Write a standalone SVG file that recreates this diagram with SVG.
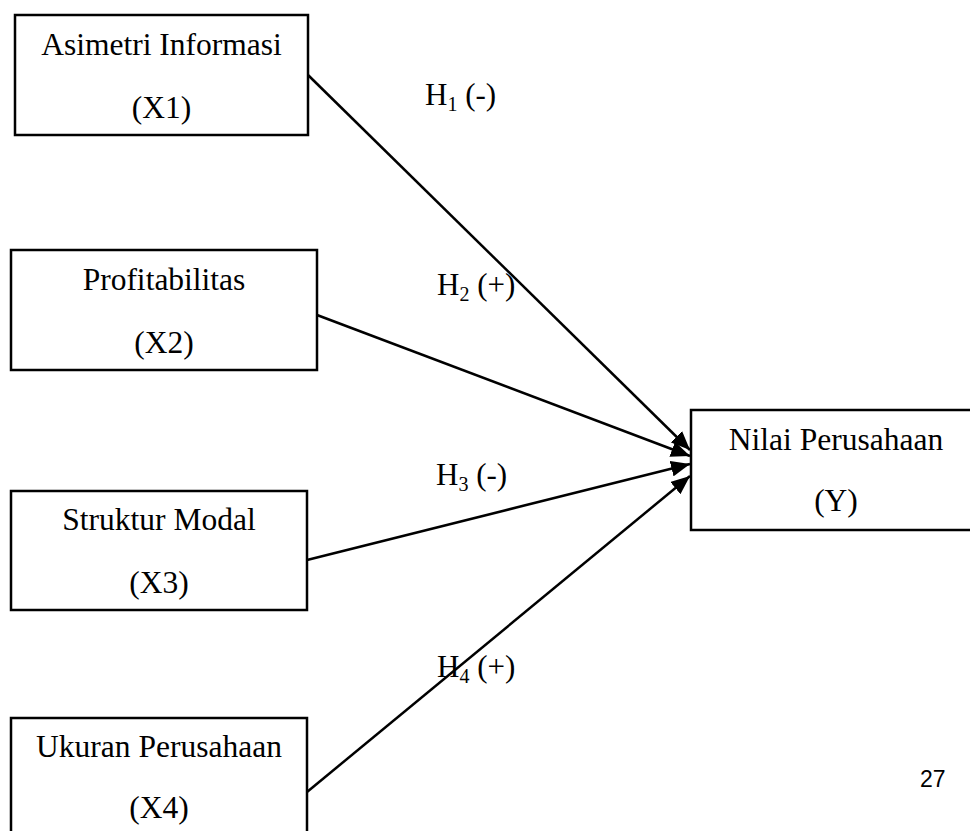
<svg xmlns="http://www.w3.org/2000/svg" width="970" height="831" viewBox="0 0 970 831">
<style>
.box{fill:#fff;stroke:#000;stroke-width:2.5}
.t{font-family:"Liberation Serif","Times New Roman",serif;font-size:31.5px;fill:#000;text-anchor:middle}
.h{font-family:"Liberation Serif","Times New Roman",serif;font-size:31px;fill:#000}
.sub{font-size:20px}
.c{stroke:#000;stroke-width:2.5;fill:none;marker-end:url(#ah)}
</style>
<defs>
<marker id="ah" markerUnits="userSpaceOnUse" markerWidth="20" markerHeight="16" refX="19" refY="8" orient="auto">
<path d="M0,0 L19,8 L0,16 Z" fill="#000"/>
</marker>
</defs>
<rect width="970" height="831" fill="#fff"/>
<g id="connectors">
<line class="c" x1="308" y1="75" x2="690" y2="450"/>
<line class="c" x1="317" y1="315" x2="690" y2="456"/>
<line class="c" x1="307" y1="560" x2="690" y2="464"/>
<line class="c" x1="307" y1="792" x2="690" y2="476"/>
</g>
<g id="labels">
<text class="h" x="425" y="105">H<tspan class="sub" dy="6">1</tspan><tspan dy="-6"> (-)</tspan></text>
<text class="h" x="437" y="295">H<tspan class="sub" dy="6">2</tspan><tspan dy="-6"> (+)</tspan></text>
<text class="h" x="436" y="485">H<tspan class="sub" dy="6">3</tspan><tspan dy="-6"> (-)</tspan></text>
<text class="h" x="437" y="677">H<tspan class="sub" dy="6">4</tspan><tspan dy="-6"> (+)</tspan></text>
</g>
<g id="x1">
<rect class="box" x="15" y="15" width="293" height="120"/>
<text class="t" x="161.5" y="55">Asimetri Informasi</text>
<text class="t" x="161.5" y="118">(X1)</text>
</g>
<g id="x2">
<rect class="box" x="11" y="250" width="306" height="120"/>
<text class="t" x="164" y="290">Profitabilitas</text>
<text class="t" x="164" y="353">(X2)</text>
</g>
<g id="x3">
<rect class="box" x="11" y="491" width="296" height="119"/>
<text class="t" x="159" y="530">Struktur Modal</text>
<text class="t" x="159" y="593">(X3)</text>
</g>
<g id="x4">
<rect class="box" x="11" y="718" width="296" height="125"/>
<text class="t" x="159" y="757">Ukuran Perusahaan</text>
<text class="t" x="159" y="818">(X4)</text>
</g>
<g id="y">
<rect class="box" x="691" y="410" width="290" height="120"/>
<text class="t" x="836" y="450">Nilai Perusahaan</text>
<text class="t" x="836" y="511">(Y)</text>
</g>
<text x="920" y="787" font-family="'Liberation Sans',Arial,sans-serif" font-size="23" fill="#000">27</text>
</svg>
